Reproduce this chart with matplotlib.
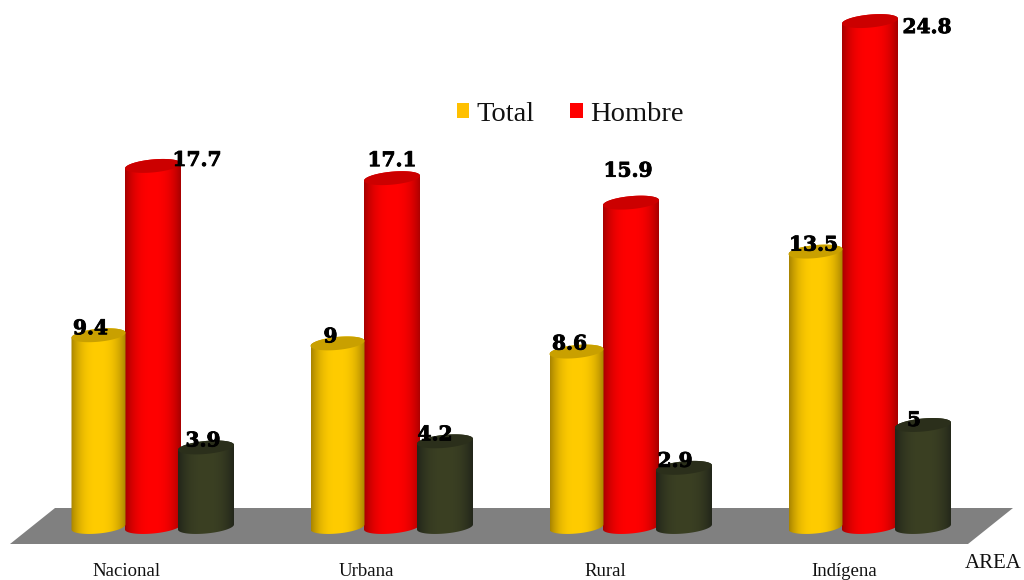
import numpy as np
import matplotlib
matplotlib.use("Agg")
from matplotlib import pyplot as plt
from matplotlib import patheffects
from matplotlib.patches import Patch, Polygon

categories = ["Nacional", "Urbana", "Rural", "Indígena"]
total = [9.4, 9, 8.6, 13.5]
hombre = [17.7, 17.1, 15.9, 24.8]
tercera = [3.9, 4.2, 2.9, 5]

# where each value label sits relative to the top of its bar, in pixels
total_offsets = [(-8, 7), (-7, 7), (-7, 8), (-2, 7)]
hombre_offsets = [(44, 6), (0, 18), (-3, 32), (57, -6)]
tercera_offsets = [(-3, 7), (-10, 7), (-9, 7), (-9, 5)]

W, H = 1024, 580
PX_X = 239.0   # pixels per category
PX_Y = 20.4    # pixels per unit of value
X0, Y0 = 153.0, 527.0   # pixel of first Hombre bar, base line

plt.rcParams["font.family"] = ["Liberation Serif", "DejaVu Serif"]

fig = plt.figure(figsize=(W / 100, H / 100), dpi=100)
ax = fig.add_axes([0, 0, 1, 1])
ax.axis("off")

# grey floor, in axes fractions
floor = [(10 / W, 1 - 544 / H), (55 / W, 1 - 508 / H), (1013 / W, 1 - 508 / H), (968 / W, 1 - 544 / H)]
ax.add_patch(Polygon(floor, closed=True, transform=ax.transAxes, facecolor="#808080", edgecolor="none", zorder=1))


def ellipse(t, cx, cy, half_w):
    half_h = 6.5 / PX_Y
    tilt = 2.5 / PX_Y
    return cx + half_w * np.cos(t), cy + half_h * np.sin(t) + tilt * np.cos(t)


def cylinder(cx, value, width, edge, mid, cap, z):
    half = width / 2
    xb, yb = ellipse(np.linspace(np.pi, 2 * np.pi, 40), cx, 0, half)
    xt, yt = ellipse(np.linspace(0, np.pi, 40), cx, value, half)
    outline = np.column_stack([np.r_[xb, xt], np.r_[yb, yt]])
    body = Polygon(outline, closed=True, transform=ax.transData, facecolor="none", edgecolor="none")
    ax.add_patch(body)

    e = np.array(matplotlib.colors.to_rgb(edge))
    m = np.array(matplotlib.colors.to_rgb(mid))
    k = np.abs(np.linspace(-1, 1, 60)) ** 2.6
    grad = (m[None, :] * (1 - k[:, None]) + e[None, :] * k[:, None])[None, :, :]
    im = ax.imshow(grad, extent=[cx - half, cx + half, -1, value + 1], aspect="auto", zorder=z, interpolation="bilinear")
    im.set_clip_path(body)

    xc, yc = ellipse(np.linspace(0, 2 * np.pi, 80), cx, value, half)
    ax.fill(xc, yc, color=cap, lw=0, zorder=z + 0.1)


width_t, width_h = 54 / PX_X, 56 / PX_X
x = np.arange(len(categories))
for i in range(len(categories)):
    cylinder(x[i] - 54.5 / PX_X, total[i], width_t, "#A98500", "#FFCC00", "#C9A000", 3)
    cylinder(x[i], hombre[i], width_h, "#A80000", "#FF0000", "#CC0000", 2)
    cylinder(x[i] + 53 / PX_X, tercera[i], width_h, "#22261A", "#3B4023", "#2B2F1B", 4)

# imshow resets the limits, so set them after the bars
ax.set_xlim(-X0 / PX_X, (W - X0) / PX_X)
ax.set_ylim((Y0 - H) / PX_Y, Y0 / PX_Y)

heavy = [patheffects.withStroke(linewidth=0.6, foreground="black")]
for i in range(len(categories)):
    for shift, value, off in [(-54.5, total[i], total_offsets[i]),
                              (0, hombre[i], hombre_offsets[i]),
                              (53, tercera[i], tercera_offsets[i])]:
        ax.annotate(f"{value:g}", (x[i] + shift / PX_X, value), xytext=off, textcoords="offset pixels",
                    ha="center", va="center", fontsize=14.5, fontweight="bold", family="DejaVu Serif",
                    color="black", zorder=10, path_effects=heavy)
    ax.text(x[i] - 26 / PX_X, (Y0 - 571) / PX_Y, categories[i], ha="center", va="center", fontsize=13.5, color="#111111")

ax.text(993 / W, 1 - 564 / H, "AREA", transform=ax.transAxes, ha="center", va="center", fontsize=15, color="#111111")

handles = [Patch(facecolor="#FFC000", label="Total"), Patch(facecolor="#FF0000", label="Hombre")]
ax.legend(handles=handles, ncol=2, frameon=False, loc="center", bbox_to_anchor=(570 / W, 1 - 114 / H),
          fontsize=20.5, handlelength=0.45, handleheight=0.45, handletextpad=0.25, columnspacing=1.25,
          labelcolor="#111111", borderpad=0)

fig.savefig("out.png", dpi=100)
